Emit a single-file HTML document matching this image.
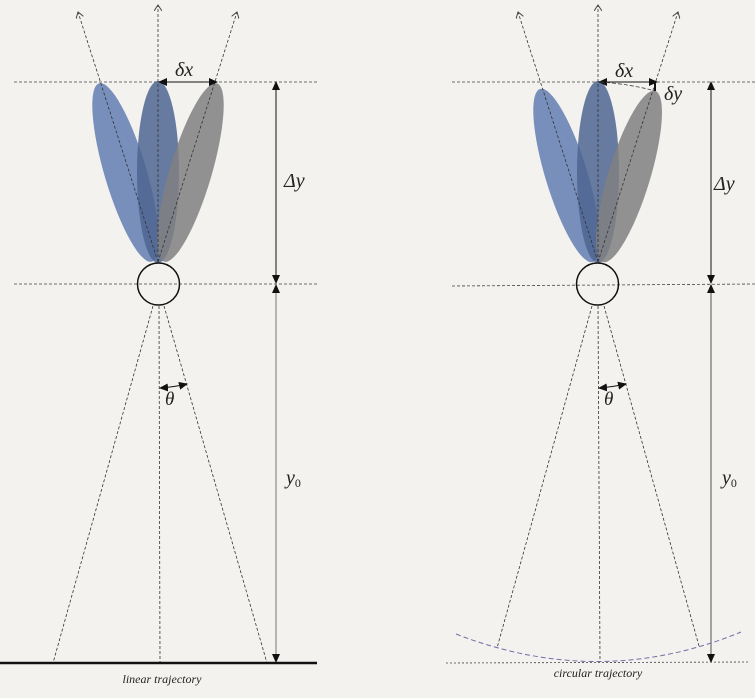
<!DOCTYPE html>
<html><head><meta charset="utf-8"><style>
html,body{margin:0;padding:0;background:#f3f2ef;}
svg{display:block;}
text{font-family:"Liberation Serif",serif;font-style:italic;fill:#222;}
</style></head><body>
<svg width="755" height="698" viewBox="0 0 755 698" xmlns="http://www.w3.org/2000/svg">
<defs>
<marker id="ah" markerWidth="9" markerHeight="8" refX="8" refY="4" orient="auto-start-reverse" markerUnits="userSpaceOnUse"><path d="M0,0 L9,4 L0,8 z" fill="#111"/></marker>
<marker id="oh" markerWidth="8" markerHeight="8" refX="6" refY="4" orient="auto" markerUnits="userSpaceOnUse"><path d="M0,0 L6,4 L0,8" fill="none" stroke="#444" stroke-width="1"/></marker>
</defs>
<rect width="755" height="698" fill="#f3f2ef"/>

<!-- LEFT -->
<g>
<line x1="14" y1="82" x2="318" y2="82" stroke="#444" stroke-width="0.8" stroke-dasharray="3,2"/>
<line x1="14" y1="284" x2="318" y2="284" stroke="#444" stroke-width="0.8" stroke-dasharray="3,2"/>
<ellipse cx="125.5" cy="172.5" rx="21" ry="93" transform="rotate(-16.5 125.5 172.5)" fill="#6a84b6" fill-opacity="0.9"/>
<ellipse cx="158" cy="172" rx="21" ry="91" fill="#4e6590" fill-opacity="0.85"/>
<ellipse cx="190.5" cy="172.5" rx="21" ry="93" transform="rotate(16.5 190.5 172.5)" fill="#808080" fill-opacity="0.85"/>
<line x1="158" y1="262" x2="78" y2="12" stroke="#333" stroke-width="0.8" stroke-dasharray="3,2" marker-end="url(#oh)"/>
<line x1="158" y1="262" x2="158" y2="5" stroke="#333" stroke-width="0.8" stroke-dasharray="3,2" marker-end="url(#oh)"/>
<line x1="158" y1="262" x2="237" y2="12" stroke="#333" stroke-width="0.8" stroke-dasharray="3,2" marker-end="url(#oh)"/>
<line x1="159" y1="82" x2="217" y2="82" stroke="#111" stroke-width="1" marker-start="url(#ah)" marker-end="url(#ah)"/>
<text x="175" y="76" font-size="20">δx</text>
<circle cx="158.5" cy="284" r="21" fill="none" stroke="#111" stroke-width="1.5"/>
<line x1="276" y1="82" x2="276" y2="283" stroke="#111" stroke-width="1" marker-start="url(#ah)" marker-end="url(#ah)"/>
<text x="284" y="187" font-size="20">Δy</text>
<line x1="276" y1="285" x2="276" y2="662" stroke="#777" stroke-width="1" marker-start="url(#ah)" marker-end="url(#ah)"/>
<text x="286" y="484" font-size="20">y<tspan font-size="12" font-style="normal" dy="3">0</tspan></text>
<line x1="153" y1="306" x2="53" y2="663" stroke="#333" stroke-width="0.8" stroke-dasharray="3,2"/>
<line x1="159" y1="306" x2="160" y2="663" stroke="#333" stroke-width="0.8" stroke-dasharray="3,2"/>
<line x1="164" y1="306" x2="267" y2="663" stroke="#333" stroke-width="0.8" stroke-dasharray="3,2"/>
<path d="M160,388 Q174,387 187,384" fill="none" stroke="#111" stroke-width="1" marker-start="url(#ah)" marker-end="url(#ah)"/>
<text x="165" y="405" font-size="19">θ</text>
<line x1="0" y1="663" x2="317" y2="663" stroke="#111" stroke-width="2.5"/>
<text x="162" y="683" font-size="12" text-anchor="middle">linear trajectory</text>
</g>

<!-- RIGHT -->
<g>
<line x1="452" y1="82" x2="755" y2="82" stroke="#444" stroke-width="0.8" stroke-dasharray="3,2"/>
<line x1="452" y1="286" x2="755" y2="284" stroke="#444" stroke-width="0.8" stroke-dasharray="3,2"/>
<ellipse cx="566.5" cy="175.5" rx="21" ry="90.5" transform="rotate(-17 566.5 175.5)" fill="#6a84b6" fill-opacity="0.9"/>
<ellipse cx="598" cy="172" rx="21" ry="91" fill="#4e6590" fill-opacity="0.85"/>
<ellipse cx="629" cy="176.5" rx="21" ry="89.5" transform="rotate(17 629 176.5)" fill="#808080" fill-opacity="0.85"/>
<line x1="598" y1="262" x2="518" y2="12" stroke="#333" stroke-width="0.8" stroke-dasharray="3,2" marker-end="url(#oh)"/>
<line x1="598" y1="262" x2="598" y2="5" stroke="#333" stroke-width="0.8" stroke-dasharray="3,2" marker-end="url(#oh)"/>
<line x1="598" y1="262" x2="678" y2="12" stroke="#333" stroke-width="0.8" stroke-dasharray="3,2" marker-end="url(#oh)"/>
<line x1="599" y1="82" x2="657" y2="82" stroke="#111" stroke-width="1" marker-start="url(#ah)" marker-end="url(#ah)"/>
<path d="M600,82 Q630,84 655,91" fill="none" stroke="#444" stroke-width="0.8" stroke-dasharray="4,2"/>
<line x1="655" y1="83" x2="655" y2="91" stroke="#111" stroke-width="2"/>
<text x="615" y="77" font-size="20">δx</text>
<text x="664" y="100" font-size="20">δy</text>
<circle cx="597.5" cy="284" r="21" fill="none" stroke="#111" stroke-width="1.5"/>
<line x1="711" y1="82" x2="711" y2="283" stroke="#111" stroke-width="1" marker-start="url(#ah)" marker-end="url(#ah)"/>
<text x="714" y="190" font-size="20">Δy</text>
<line x1="711" y1="285" x2="711" y2="662" stroke="#777" stroke-width="1.3" marker-start="url(#ah)" marker-end="url(#ah)"/>
<text x="722" y="484" font-size="20">y<tspan font-size="12" font-style="normal" dy="3">0</tspan></text>
<line x1="592" y1="306" x2="497" y2="648" stroke="#333" stroke-width="0.8" stroke-dasharray="3,2"/>
<line x1="598" y1="306" x2="600" y2="662" stroke="#333" stroke-width="0.8" stroke-dasharray="3,2"/>
<line x1="604" y1="306" x2="699" y2="646" stroke="#333" stroke-width="0.8" stroke-dasharray="3,2"/>
<path d="M599,388 Q612,387 626,384" fill="none" stroke="#111" stroke-width="1" marker-start="url(#ah)" marker-end="url(#ah)"/>
<text x="604" y="405" font-size="19">θ</text>
<path d="M456,634 Q600,690 741,632" fill="none" stroke="#7a6aa8" stroke-width="1" stroke-dasharray="5,3"/>
<line x1="446" y1="663" x2="750" y2="662" stroke="#444" stroke-width="0.8" stroke-dasharray="2,2"/>
<text x="598" y="677" font-size="12" text-anchor="middle">circular trajectory</text>
</g>
</svg>
</body></html>
